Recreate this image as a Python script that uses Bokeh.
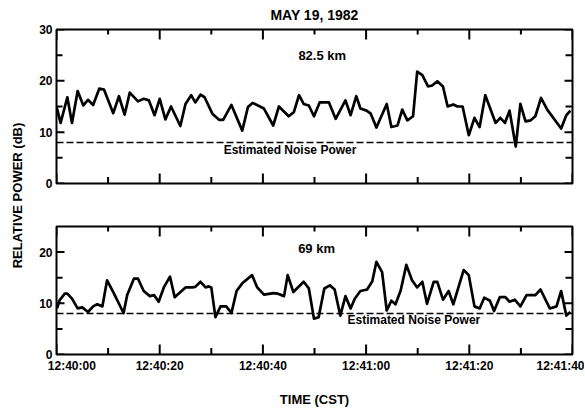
import numpy as np
from bokeh.plotting import figure
from bokeh.models import (LinearAxis, FixedTicker, Span, Label, Range1d, Arrow,
                          ColumnDataSource)
from bokeh.layouts import row, column
from bokeh.embed import file_html
from bokeh.resources import INLINE

# ---------------- data (seconds after 12:40:00 CST, relative power in dB) ----
t_825 = [0.0, 0.8, 2.1, 3.0, 4.1, 5.2, 6.1, 7.1, 8.3, 9.2, 11.0, 12.1, 13.2, 14.2,
         15.8, 16.9, 17.9, 19.0, 20.0, 21.1, 22.2, 24.0, 25.0, 26.1, 26.9, 27.9,
         28.7, 30.2, 31.5, 32.3, 33.9, 36.0, 37.1, 38.0, 40.2, 42.0, 43.1, 45.0,
         46.0, 47.0, 47.9, 48.9, 49.9, 51.0, 52.8, 54.1, 56.0, 57.0, 58.1, 58.9,
         60.1, 60.9, 62.0, 64.0, 64.9, 66.1, 67.0, 68.0, 69.1, 69.9, 70.9, 72.0,
         72.8, 73.8, 74.9, 75.8, 76.9, 77.7, 78.7, 79.9, 81.0, 82.0, 83.1, 85.1,
         86.0, 86.9, 87.8, 89.0, 89.9, 90.9, 91.9, 92.8, 93.9, 95.1, 97.8, 98.8, 99.6]
p_825 = [15.0, 11.8, 16.8, 11.8, 18.0, 15.2, 16.3, 15.3, 18.5, 18.3, 13.7, 17.0,
         13.4, 17.7, 16.0, 16.5, 16.2, 13.3, 16.5, 12.5, 15.0, 11.2, 15.5, 17.2,
         15.8, 17.3, 16.8, 13.6, 12.4, 12.4, 15.3, 10.3, 14.9, 15.7, 14.6, 11.3,
         15.0, 13.1, 13.9, 17.2, 15.5, 15.2, 13.1, 15.8, 15.8, 12.6, 16.2, 13.3,
         17.0, 14.6, 14.2, 13.6, 10.9, 15.5, 11.0, 11.3, 14.4, 12.3, 13.1, 21.8,
         21.1, 18.9, 19.1, 19.9, 18.9, 15.0, 15.4, 15.0, 15.0, 9.4, 12.8, 11.0,
         17.2, 11.8, 12.8, 11.8, 14.2, 7.2, 15.5, 12.1, 12.3, 13.1, 16.7, 14.4,
         10.7, 13.3, 14.2]

t_69 = [0.1, 0.6, 1.6, 2.1, 3.0, 4.1, 5.0, 6.1, 7.1, 7.9, 8.9, 9.8, 11.0, 13.0,
        13.7, 15.0, 15.8, 16.9, 18.1, 18.9, 19.8, 20.8, 22.0, 22.9, 25.0, 26.3,
        26.9, 27.9, 28.9, 29.5, 30.0, 30.8, 31.8, 32.9, 33.9, 34.9, 36.0, 37.9,
        38.9, 40.2, 42.1, 42.8, 44.1, 44.8, 45.9, 47.9, 48.9, 49.9, 50.8, 51.9,
        53.0, 53.9, 55.0, 56.0, 57.0, 57.8, 58.9, 60.2, 61.2, 62.0, 63.1, 64.0,
        64.9, 65.7, 66.7, 67.8, 68.9, 69.9, 70.9, 71.8, 73.1, 73.8, 74.9, 76.0,
        76.9, 78.9, 79.9, 81.0, 82.0, 82.9, 84.0, 84.8, 85.9, 87.0, 87.8, 88.8,
        89.9, 91.1, 92.8, 93.8, 95.6, 96.9, 97.8, 98.8, 99.6]
p_69 = [9.0, 10.6, 11.9, 11.9, 10.9, 9.0, 9.2, 8.3, 9.4, 9.8, 9.4, 14.5, 12.2, 8.1,
        11.6, 14.8, 14.8, 12.4, 11.4, 11.6, 10.3, 13.1, 15.2, 11.2, 13.1, 13.1,
        13.2, 14.2, 13.1, 13.3, 13.1, 7.3, 9.4, 9.4, 8.1, 12.4, 13.9, 15.5, 13.1,
        11.7, 12.0, 11.9, 11.4, 15.5, 12.2, 14.2, 12.9, 7.0, 7.3, 12.9, 13.5, 12.7,
        7.6, 11.4, 9.0, 10.9, 12.4, 12.7, 14.3, 18.1, 16.1, 8.6, 10.5, 9.8, 12.5,
        17.5, 14.5, 13.1, 14.2, 9.9, 14.2, 14.2, 10.7, 12.4, 9.8, 16.5, 15.5, 9.4,
        9.0, 11.1, 10.5, 8.5, 11.2, 11.2, 10.3, 10.7, 9.4, 11.6, 11.6, 12.7, 9.0,
        9.4, 12.4, 7.6, 8.3]

noise_825 = 8.0
noise_69 = 8.0

x_major = [0, 20, 40, 60, 80, 100]
x_minor = [10, 30, 50, 70, 90]
x_labels = ["12:40:00", "12:40:20", "12:40:40", "12:41:00", "12:41:20", "12:41:40"]

title_text = "MAY 19, 1982"
ylabel_text = "RELATIVE POWER (dB)"
xlabel_text = "TIME (CST)"
noise_text = "Estimated Noise Power"

FONT = "Liberation Sans"
FS = "\u2007"
FRAME_W = 516
X_MAX = 100


def label_axis(ax, major, labels):
    ax.ticker = FixedTicker(ticks=list(major), minor_ticks=[])
    ax.major_label_overrides = labels
    ax.axis_line_color = None
    ax.major_tick_in = 0
    ax.major_tick_out = 0
    ax.minor_tick_in = 0
    ax.minor_tick_out = 0
    ax.major_tick_line_color = None
    ax.minor_tick_line_color = None
    ax.major_label_text_font = FONT
    ax.major_label_text_font_style = "bold"
    ax.major_label_text_color = "black"
    ax.major_label_text_font_size = "12px"
    ax.major_label_standoff = 4


def tick_marks(p, x0, y0, x1, y1):
    # short inward tick strokes drawn as head-less arrows (annotations)
    src = ColumnDataSource(dict(x0=[float(v) for v in x0], y0=[float(v) for v in y0],
                                x1=[float(v) for v in x1], y1=[float(v) for v in y1]))
    p.add_layout(Arrow(start=None, end=None, x_start="x0", y_start="y0",
                       x_end="x1", y_end="y1", source=src,
                       line_color="black", line_width=2))


def xticks(p, xs, y_edge, length_data):
    n = len(xs)
    tick_marks(p, xs, [y_edge] * n, xs, [y_edge + length_data] * n)


def yticks(p, ys, x_edge, length_data):
    n = len(ys)
    tick_marks(p, [x_edge] * n, ys, [x_edge + length_data] * n, ys)


def make_panel(t, pw, noise, ymax, name, name_x, name_y, noise_x, noise_y,
               top_border, bottom_border, frame_h, bottom_labels):
    p = figure(frame_width=FRAME_W, frame_height=frame_h,
               x_range=Range1d(0, X_MAX), y_range=Range1d(0, ymax),
               output_backend="svg", toolbar_location=None,
               min_border_left=22, min_border_right=12,
               min_border_top=top_border, min_border_bottom=bottom_border)
    p.xaxis.visible = False
    p.yaxis.visible = False
    p.grid.visible = False
    p.outline_line_color = "black"
    p.outline_line_width = 2

    ymaj = list(range(0, ymax + 1, 10))
    ymin = list(range(5, ymax, 10))

    p.line(t, pw, line_color="black", line_width=2.7, line_join="round")
    p.add_layout(Span(location=noise, dimension="width", line_color="black",
                      line_width=1.5, line_dash="7 3"))

    # inward tick marks on all four sides (pixel lengths converted to data units)
    py = ymax / frame_h
    px = X_MAX / FRAME_W
    xticks(p, x_major, ymax, -10 * py)
    xticks(p, x_minor, ymax, -5 * py)
    xticks(p, x_major, 0, 10 * py)
    xticks(p, x_minor, 0, 6.5 * py)
    yticks(p, ymaj, 0, 8 * px)
    yticks(p, ymin, 0, 6 * px)
    yticks(p, ymaj, X_MAX, -8 * px)
    yticks(p, ymin, X_MAX, -7 * px)

    left = LinearAxis()
    label_axis(left, ymaj, {v: str(v) for v in ymaj})
    p.add_layout(left, "left")
    if bottom_labels:
        bottom = LinearAxis()
        labs = {x_major[i]: x_labels[i] for i in range(len(x_major))}
        labs[x_major[0]] = FS * 2 + x_labels[0]
        label_axis(bottom, x_major, labs)
        bottom.axis_label = xlabel_text
        bottom.axis_label_text_font = FONT
        bottom.axis_label_text_font_style = "bold"
        bottom.axis_label_text_font_size = "13px"
        bottom.axis_label_text_color = "black"
        bottom.axis_label_standoff = 16
        p.add_layout(bottom, "below")

    p.add_layout(Label(x=name_x, y=name_y, text=name, text_align="center",
                       text_baseline="middle", text_font=FONT,
                       text_font_style="bold", text_font_size="13px",
                       text_color="black"))
    p.add_layout(Label(x=noise_x, y=noise_y, text=noise_text, text_align="left",
                       text_baseline="middle", text_font=FONT,
                       text_font_style="bold", text_font_size="12px",
                       text_color="black"))
    return p


top = make_panel(t_825, p_825, noise_825, 30, "82.5 km", 51.5, 25.0, 32.4, 6.6,
                 29, 20, 154, False)
top.title.text = title_text
top.title.align = "center"
top.title.text_font = FONT
top.title.text_font_style = "bold"
top.title.text_font_size = "14px"
top.title.text_color = "black"
top.title.standoff = 10
top.title.vertical_align = "top"

bot = make_panel(t_69, p_69, noise_69, 25, "69 km", 50.4, 20.8, 56.4, 6.7,
                 23, 50, 128, True)

TOTAL_H = 203 + 201
lab = figure(width=34, height=TOTAL_H, x_range=Range1d(0, 34),
             y_range=Range1d(0, TOTAL_H), x_axis_type=None, y_axis_type=None,
             output_backend="svg", toolbar_location=None, min_border=0)
lab.outline_line_color = None
lab.grid.visible = False
lab.add_layout(Label(x=17, y=TOTAL_H - 195, text=ylabel_text, angle=np.pi / 2,
                     text_align="center", text_baseline="middle", text_font=FONT,
                     text_font_style="bold", text_font_size="13px",
                     text_color="black"))

layout = row(lab, column(top, bot, spacing=0), spacing=0)

open("out.html", "w").write(file_html(layout, INLINE))
